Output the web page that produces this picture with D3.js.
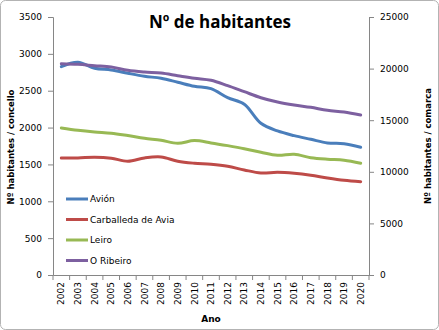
<!DOCTYPE html>
<html>
<head>
<meta charset="utf-8">
<script src="https://cdn.jsdelivr.net/npm/d3@7"></script>
<style>
body { margin: 0; background: #fff; }
svg text { font-family: "DejaVu Sans", Verdana, sans-serif; }
</style>
</head>
<body>
<div id="vis"></div>
<script>
// years on the category axis
const years = ['2002','2003','2004','2005','2006','2007','2008','2009','2010','2011',
	'2012','2013','2014','2015','2016','2017','2018','2019','2020']

// concellos (left axis)
const avion = [2827,2886,2805,2782,2737,2696,2669,2615,2560,2528,2406,2316,2058,1954,1891,1841,1791,1782,1733]
const carballeda = [1588,1588,1597,1584,1543,1588,1601,1543,1516,1502,1475,1425,1384,1394,1380,1353,1316,1285,1266]
const leiro = [1995,1963,1940,1923,1891,1855,1828,1787,1823,1792,1755,1714,1665,1624,1638,1592,1570,1557,1516]
// comarca (right axis)
const ribeiro = [20475,20417,20281,20155,19836,19671,19574,19313,19060,18866,18343,17762,17181,16764,16473,16250,15960,15795,15504]

const leftTicks = [0,500,1000,1500,2000,2500,3000,3500]
const rightTicks = [0,5000,10000,15000,20000,25000]

const series = [
	{name: 'Avión', values: avion, axis: 'left', color: '#4a7ebb'},
	{name: 'Carballeda de Avia', values: carballeda, axis: 'left', color: '#be4b48'},
	{name: 'Leiro', values: leiro, axis: 'left', color: '#98b954'},
	{name: 'O Ribeiro', values: ribeiro, axis: 'right', color: '#7d60a0'}
]

const W = 439, H = 330
const plot = {left: 53, right: 369, top: 17, bottom: 275}
const axisColor = '#868686'

const svg = d3.select('#vis').append('svg')
	.attr('width', W)
	.attr('height', H)

// chart border
svg.append('rect')
	.attr('x', 0.5).attr('y', 0.5)
	.attr('width', W - 1).attr('height', H - 1)
	.attr('rx', 5)
	.attr('fill', '#fff')
	.attr('stroke', '#b3b3b3')

const xScale = d3.scaleBand().domain(years).range([plot.left, plot.right])
const yLeft = d3.scaleLinear().domain([0, 3500]).range([plot.bottom, plot.top])
const yRight = d3.scaleLinear().domain([0, 25000]).range([plot.bottom, plot.top])

// left axis
const gl = svg.append('g')
	.attr('transform', `translate(${plot.left},0)`)
	.call(d3.axisLeft(yLeft).tickValues(leftTicks).tickSize(5).tickPadding(6).tickFormat(d3.format('d')))
// right axis
const gr = svg.append('g')
	.attr('transform', `translate(${plot.right},0)`)
	.call(d3.axisRight(yRight).tickValues(rightTicks).tickSize(5).tickPadding(6).tickFormat(d3.format('d')))
// bottom axis, ticks on the band edges
const gb = svg.append('g')
	.attr('transform', `translate(0,${plot.bottom})`)
	.call(d3.axisBottom(xScale).tickSize(0).tickPadding(6))

gb.selectAll('.tick text')
	.attr('transform', 'rotate(-90)')
	.attr('text-anchor', 'end')
	.attr('dy', '0.35em')
	.attr('x', -7)
	.attr('y', 0)

gb.selectAll('.edge')
	.data(d3.range(years.length + 1))
	.enter().append('line')
	.attr('class', 'edge')
	.attr('x1', i => plot.left + i * xScale.bandwidth())
	.attr('x2', i => plot.left + i * xScale.bandwidth())
	.attr('y1', 0).attr('y2', 5)
	.attr('stroke', axisColor)

for (const g of [gl, gr, gb]) {
	g.select('.domain').attr('stroke', axisColor).attr('stroke-width', 1)
	g.selectAll('.tick line').attr('stroke', axisColor)
	g.selectAll('.tick text').attr('font-size', 9).attr('fill', '#000')
		.style('font-family', '"DejaVu Sans", Verdana, sans-serif')
}

// lines
const line = (yScale) => d3.line()
	.x((d, i) => xScale(years[i]) + xScale.bandwidth() / 2)
	.y(d => yScale(d))
	.curve(d3.curveCatmullRom.alpha(0.5))

svg.selectAll('.serie')
	.data(series)
	.enter().append('path')
	.attr('class', 'serie')
	.attr('d', s => line(s.axis == 'left' ? yLeft : yRight)(s.values))
	.attr('fill', 'none')
	.attr('stroke', s => s.color)
	.attr('stroke-width', 3)
	.attr('stroke-linejoin', 'round')
	.attr('stroke-linecap', 'round')

// legend
const legend = svg.append('g').attr('transform', 'translate(66,199)')
const rows = legend.selectAll('g')
	.data(series)
	.enter().append('g')
	.attr('transform', (d, i) => `translate(0,${i * 20.5})`)
rows.append('line')
	.attr('x1', 0).attr('x2', 22)
	.attr('stroke', d => d.color)
	.attr('stroke-width', 3)
rows.append('text')
	.attr('x', 24)
	.attr('dy', '0.35em')
	.attr('font-size', 9)
	.text(d => d.name)

// titles
svg.append('text')
	.attr('x', 220).attr('y', 28)
	.attr('text-anchor', 'middle')
	.attr('font-size', 17)
	.attr('font-weight', 'bold')
	.style('font-family', '"Open Sans", "DejaVu Sans", sans-serif')
	.text('Nº de habitantes')

svg.append('text')
	.attr('transform', 'translate(14,147) rotate(-90)')
	.attr('text-anchor', 'middle')
	.attr('font-size', 8.5)
	.attr('font-weight', 'bold')
	.text('Nº habitantes / concello')

svg.append('text')
	.attr('transform', 'translate(431,146) rotate(-90)')
	.attr('text-anchor', 'middle')
	.attr('font-size', 8.5)
	.attr('font-weight', 'bold')
	.text('Nº habitantes / comarca')

svg.append('text')
	.attr('x', 211).attr('y', 322)
	.attr('text-anchor', 'middle')
	.attr('font-size', 9)
	.attr('font-weight', 'bold')
	.text('Ano')
</script>
</body>
</html>
